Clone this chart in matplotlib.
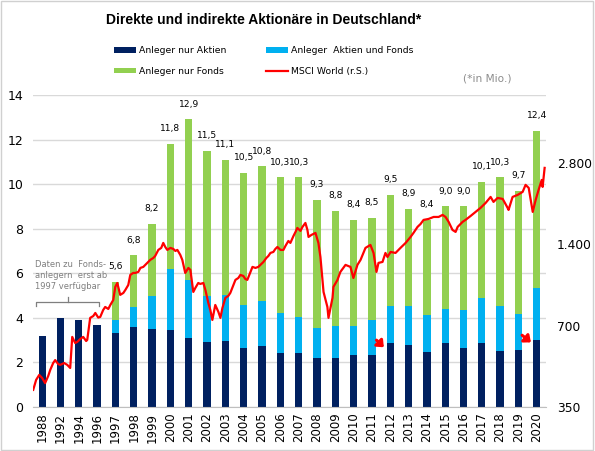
import matplotlib
matplotlib.use("Agg")
from matplotlib import pyplot as plt
from matplotlib.patches import Rectangle
from matplotlib.ticker import FixedLocator, FuncFormatter, NullLocator

# Daten (Mio. Anleger)
jahre = ["1988", "1992", "1994", "1996", "1997", "1998", "1999", "2000", "2001",
         "2002", "2003", "2004", "2005", "2006", "2007", "2008", "2009", "2010",
         "2011", "2012", "2013", "2014", "2015", "2016", "2017", "2018", "2019", "2020"]
nur_aktien = [3.2, 4.0, 3.9, 3.7, 3.3, 3.6, 3.5, 3.45, 3.1,
              2.9, 2.95, 2.65, 2.75, 2.4, 2.4, 2.2, 2.2, 2.35,
              2.35, 2.87, 2.78, 2.47, 2.87, 2.65, 2.87, 2.5, 2.56, 3.0]
aktien_fonds = [0, 0, 0, 0, 0.6, 0.9, 1.48, 2.75, 2.6,
                2.08, 2.07, 1.93, 2.02, 1.82, 1.64, 1.34, 1.43, 1.28,
                1.55, 1.66, 1.75, 1.66, 1.53, 1.7, 2.02, 2.03, 1.61, 2.34]
gesamt = [None, None, None, None, 5.6, 6.8, 8.2, 11.8, 12.9,
          11.5, 11.1, 10.5, 10.8, 10.3, 10.3, 9.3, 8.8, 8.4,
          8.5, 9.5, 8.9, 8.4, 9.0, 9.0, 10.1, 10.3, 9.7, 12.4]

# MSCI World (r.S.), x = Position auf der Kategorienachse
msci_pos = [-0.49, -0.33, -0.16, 0.00, 0.16, 0.33, 0.44, 0.60, 0.71, 0.87, 0.98,
            1.20, 1.37, 1.53, 1.64, 1.80, 1.91, 2.08, 2.24, 2.40, 2.46, 2.57, 2.62,
            2.79, 2.90, 3.06, 3.17, 3.33, 3.44, 3.61, 3.72, 3.88, 3.99, 4.10, 4.26,
            4.43, 4.54, 4.70, 4.81, 4.97, 5.08, 5.25, 5.36, 5.52, 5.63, 5.79, 5.90,
            6.07, 6.17, 6.34, 6.50, 6.61, 6.72, 6.83, 7.00, 7.16, 7.27, 7.38, 7.54,
            7.65, 7.81, 7.98, 8.09, 8.25, 8.36, 8.52, 8.63, 8.80, 8.91, 9.07, 9.18,
            9.29, 9.40, 9.45, 9.62, 9.73, 9.84, 10.00, 10.16, 10.27, 10.44, 10.55,
            10.71, 10.82, 10.98, 11.09, 11.20, 11.37, 11.48, 11.64, 11.80, 11.91,
            12.08, 12.24, 12.35, 12.46, 12.62, 12.73, 12.84, 13.01, 13.17, 13.28,
            13.44, 13.55, 13.72, 13.83, 13.93, 14.10, 14.21, 14.37, 14.48, 14.54,
            14.70, 14.81, 14.92, 15.03, 15.08, 15.19, 15.36, 15.57, 15.63, 15.85,
            15.90, 16.12, 16.28, 16.56, 16.83, 16.99, 17.21, 17.38, 17.65, 17.92,
            18.09, 18.25, 18.36, 18.58, 18.74, 18.85, 19.02, 19.29, 19.56, 19.84,
            20.11, 20.27, 20.49, 20.66, 20.82, 21.09, 21.37, 21.64, 21.86, 22.02,
            22.19, 22.40, 22.57, 22.68, 22.95, 23.11, 23.39, 23.66, 23.93, 24.21,
            24.48, 24.64, 24.86, 25.14, 25.41, 25.46, 25.68, 25.96, 26.23, 26.39,
            26.56, 26.78, 26.94, 27.10, 27.27, 27.32, 27.43]
msci = [405, 441, 460, 448, 429, 456, 480, 509, 522, 505, 501,
        509, 501, 488, 636, 604, 609, 625, 636, 614, 620, 704, 748,
        760, 780, 750, 754, 800, 821, 807, 835, 871, 974, 1007, 910,
        925, 949, 990, 1079, 1097, 1097, 1107, 1145, 1155, 1175, 1205, 1226,
        1247, 1268, 1335, 1358, 1417, 1369, 1335, 1358, 1346, 1323, 1335, 1279,
        1226, 1097, 1145, 1126, 933, 965, 1007, 999, 1007, 949, 850, 800,
        735, 800, 835, 787, 748, 814, 887, 902, 925, 990, 1034,
        1051, 1079, 1069, 1042, 1034, 1107, 1155, 1145, 1155, 1175,
        1205, 1247, 1268, 1301, 1312, 1346, 1369, 1335, 1335, 1381,
        1441, 1417, 1504, 1556, 1610, 1570, 1624, 1680, 1583, 1491,
        1517, 1530, 1543, 1454, 1417, 1257, 933, 821, 748, 887,
        974, 1034, 1107, 1175, 1155, 1051, 1175, 1226, 1358, 1393,
        1301, 1107, 1195, 1205, 1301, 1257, 1312, 1301, 1358, 1417,
        1491, 1543, 1624, 1666, 1724, 1738, 1768, 1768, 1799, 1768,
        1695, 1583, 1556, 1624, 1695, 1724, 1783, 1846, 1910, 1993,
        2097, 2010, 2079, 2062, 1910, 1877, 2097, 2134, 2189, 2324,
        2265, 1846, 2044, 2226, 2424, 2284, 2686]

c_navy = "#002060"
c_blau = "#00B0F0"
c_gruen = "#92D050"
c_rot = "#FF0000"
c_grau = "#7F7F7F"

nur_fonds = [0 if g is None else g - a - b for g, a, b in zip(gesamt, nur_aktien, aktien_fonds)]
x = list(range(len(jahre)))

fig = plt.figure(figsize=(5.95, 4.51), dpi=100)
fig.patches.append(Rectangle((0.002, 0.003), 0.995, 0.994, transform=fig.transFigure,
                             fill=False, edgecolor="#D0D0D0", lw=1))

ax = fig.add_axes([0.0555, 0.0976, 0.862, 0.6918])
w = 0.4
b1 = ax.bar(x, nur_aktien, w, color=c_navy, zorder=2)
b2 = ax.bar(x, aktien_fonds, w, bottom=nur_aktien, color=c_blau, zorder=2)
unten = [a + b for a, b in zip(nur_aktien, aktien_fonds)]
b3 = ax.bar(x, nur_fonds, w, bottom=unten, color=c_gruen, zorder=2)

for xi, g in zip(x, gesamt):
    if g is not None:
        ax.annotate(("%.1f" % g).replace(".", ","), (xi, g), xytext=(0, 11),
                    textcoords="offset points", ha="center", va="center",
                    fontsize=6.6, color="black")

ax.set_xlim(-0.5, len(jahre) - 0.5)
ax.set_ylim(0, 14)
ax.set_yticks(range(0, 15, 2))
ax.set_xticks(x)
ax.set_xticklabels(jahre, rotation=90, fontsize=8.5)
ax.tick_params(axis="y", labelsize=9, length=0, pad=7)
ax.tick_params(axis="x", length=0, pad=4)
ax.grid(axis="y", color="#D9D9D9", lw=1, zorder=0)
ax.set_axisbelow(True)
for s in ["left", "right", "top"]:
    ax.spines[s].set_visible(False)
ax.spines["bottom"].set_color("#BFBFBF")

# Hinweis links
ax.text(-0.4, 6.6, "Daten zu  Fonds-\nanlegern  erst ab\n1997 verfügbar", fontsize=6.0,
        color=c_grau, ha="left", va="top", linespacing=1.3)
ax.plot([-0.33, -0.33, 3.1, 3.1], [4.55, 4.7, 4.7, 4.55], color=c_grau, lw=0.9)
ax.plot([1.4, 1.4], [4.7, 4.95], color=c_grau, lw=0.9)

# Strukturbruch-Pfeile
for p0, p1 in [((18.25, 3.0), (18.65, 2.68)), ((26.2, 3.22), (26.68, 2.9))]:
    ax.annotate("", xy=p1, xytext=p0,
                arrowprops=dict(arrowstyle="-|>,head_length=0.35,head_width=0.3",
                                color=c_rot, lw=2.2, shrinkA=0, shrinkB=0))

ax2 = ax.twinx()
ax2.set_yscale("log", base=2)
ln, = ax2.plot(msci_pos, msci, color=c_rot, lw=1.6, zorder=5)
ax2.set_ylim(350, 5000)
ax2.yaxis.set_major_locator(FixedLocator([350, 700, 1400, 2800]))
ax2.yaxis.set_minor_locator(NullLocator())
ax2.yaxis.set_major_formatter(FuncFormatter(lambda v, p: "{:,.0f}".format(v).replace(",", ".")))
ax2.tick_params(axis="y", labelsize=8.8, length=0, pad=8)
for s in ["left", "right", "top", "bottom"]:
    ax2.spines[s].set_visible(False)

fig.text(0.443, 0.955, "Direkte und indirekte Aktionäre in Deutschland*", ha="center",
         va="center", fontsize=10, fontweight="bold", family="Liberation Sans")

fig.legend([b1, b3, b2, ln],
           ["Anleger nur Aktien", "Anleger nur Fonds", "Anleger  Aktien und Fonds", "MSCI World (r.S.)"],
           loc="center", bbox_to_anchor=(0.443, 0.865), ncol=2, frameon=False,
           fontsize=6.7, handlelength=2.4, handleheight=0.55, columnspacing=4.2,
           labelspacing=1.25, handletextpad=0.3)
fig.text(0.819, 0.825, "(*in Mio.)", fontsize=7.6, color="#8C8C8C", ha="center", va="center")

fig.savefig("out.png", dpi=100)
